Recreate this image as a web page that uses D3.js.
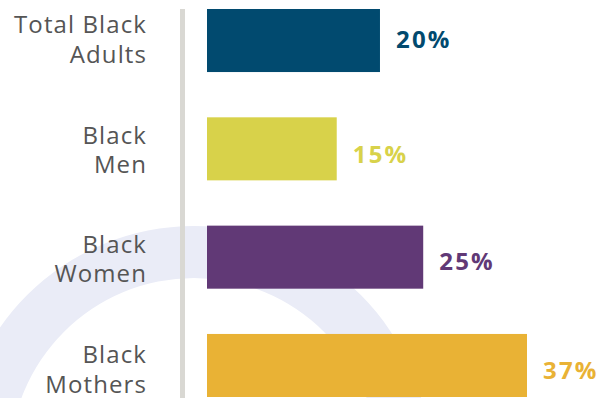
<!DOCTYPE html>
<html>
<head>
<meta charset="utf-8">
<script src="https://cdn.jsdelivr.net/npm/d3@7"></script>
<style>
html, body { margin: 0; padding: 0; background: #ffffff; }
svg { display: block; }
</style>
</head>
<body>
<svg id="chart" width="605" height="398"></svg>
<script>
// ---- data ----
const categories = ["Total Black Adults", "Black Men", "Black Women", "Black Mothers"];
const labelLines = [["Total Black", "Adults"], ["Black", "Men"], ["Black", "Women"], ["Black", "Mothers"]];
const values = [20, 15, 25, 37];
const valueLabels = ["20%", "15%", "25%", "37%"];
const colors = ["#014a6f", "#d8d24a", "#613976", "#e9b235"];

// ---- layout ----
const W = 605, H = 398;
const svg = d3.select("#chart");
const FONT = "'Open Sans', sans-serif";
// small per-row vertical nudges of the text, as seen in the original
const valueDy = [7.2, 14, 13.3, 13.8];
const catDy = [-7.2, -5.2, -4.2, -2.2];

// decorative background arc
svg.append("path")
  .attr("d", d3.arc()({innerRadius: 184, outerRadius: 236, startAngle: -Math.PI, endAngle: Math.PI}))
  .attr("transform", "translate(194,462)")
  .attr("fill", "#eaecf7");

const y = d3.scaleBand()
  .domain(categories)
  .range([9, 397])
  .paddingInner(0.418)
  .paddingOuter(0);

const x = d3.scaleLinear()
  .domain([0, 37])
  .range([207, 527]);

// axis line
svg.append("line")
  .attr("x1", 182.5).attr("x2", 182.5)
  .attr("y1", 9).attr("y2", H)
  .attr("stroke", "#d9d8d3")
  .attr("stroke-width", 5);

// bars
svg.selectAll("rect.bar")
  .data(values)
  .join("rect")
  .attr("class", "bar")
  .attr("x", x(0))
  .attr("y", (d, i) => y(categories[i]))
  .attr("width", d => x(d) - x(0))
  .attr("height", y.bandwidth())
  .attr("fill", (d, i) => colors[i]);

// value labels
svg.selectAll("text.val")
  .data(values)
  .join("text")
  .attr("class", "val")
  .attr("x", d => x(d) + 16)
  .attr("y", (d, i) => y(categories[i]) + y.bandwidth() / 2 + valueDy[i])
  .attr("font-family", FONT)
  .attr("font-weight", 700)
  .attr("font-size", 24)
  .attr("letter-spacing", 2.2)
  .attr("fill", (d, i) => colors[i])
  .text((d, i) => valueLabels[i]);

// category labels
const lab = svg.selectAll("text.cat")
  .data(categories)
  .join("text")
  .attr("class", "cat")
  .attr("text-anchor", "end")
  .attr("font-family", FONT)
  .attr("font-size", 24)
  .attr("letter-spacing", 1.1)
  .attr("fill", "#555555");
lab.each(function(d, i) {
  const c = y(d) + y.bandwidth() / 2;
  d3.select(this).selectAll("tspan")
    .data(labelLines[i])
    .join("tspan")
    .attr("x", 147)
    .attr("y", (t, j) => c + catDy[i] + j * 29.5)
    .text(t => t);
});
</script>
</body>
</html>
